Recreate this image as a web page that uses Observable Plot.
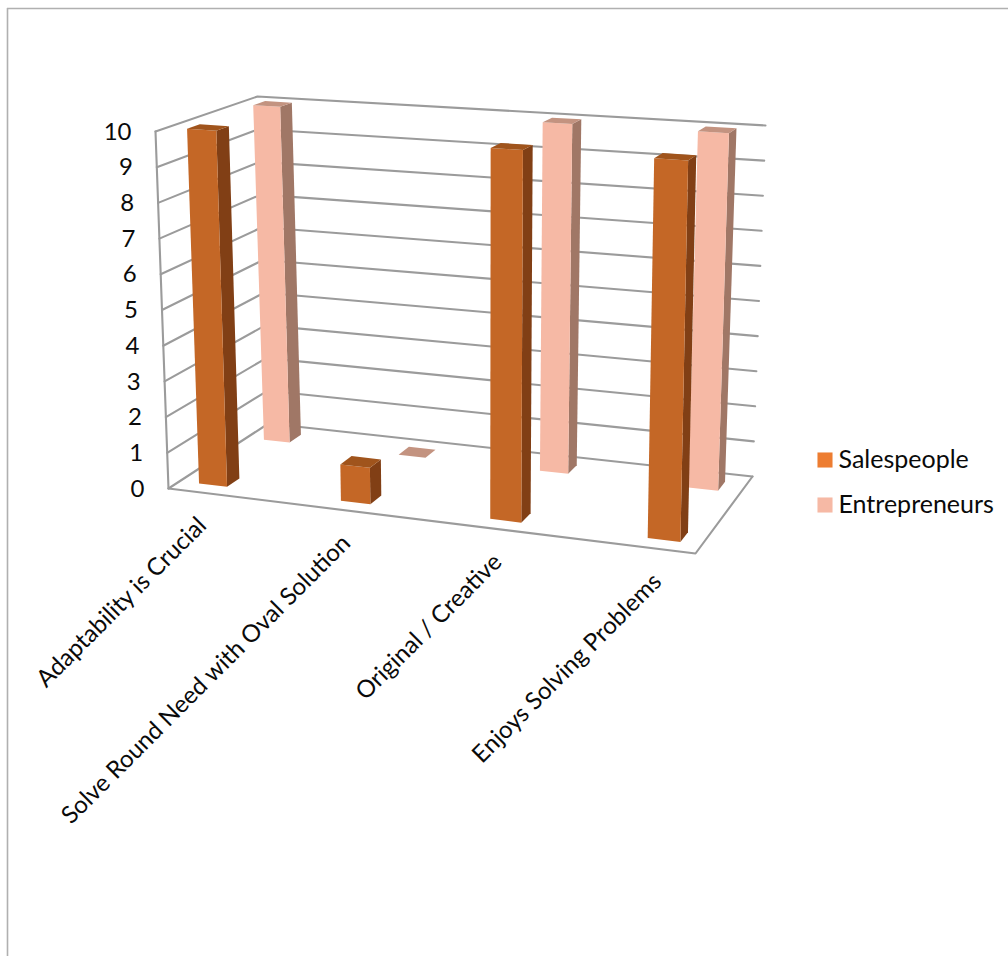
<!DOCTYPE html>
<html>
<head>
<meta charset="utf-8">
<script src="https://cdn.jsdelivr.net/npm/d3@7"></script>
<script src="https://cdn.jsdelivr.net/npm/@observablehq/plot@0.6"></script>
<style>
  html, body { margin: 0; padding: 0; background: #fff; }
  svg { display: block; }
</style>
</head>
<body>
<div id="chart"></div>
<script>
const categories = ["Adaptability is Crucial", "Solve Round Need with Oval Solution", "Original / Creative", "Enjoys Solving Problems"];
const salespeople = [10, 1, 10, 10];
const entrepreneurs = [10, 0, 10, 10];
const valueTicks = [0, 1, 2, 3, 4, 5, 6, 7, 8, 9, 10];
const seriesNames = ["Salespeople", "Entrepreneurs"];

// Unit square -> quadrilateral homography (corners: u0v0, u1v0, u1v1, u0v1).
function quad([p0, p1, p2, p3]) {
  const dx1 = p1[0] - p2[0], dy1 = p1[1] - p2[1];
  const dx2 = p3[0] - p2[0], dy2 = p3[1] - p2[1];
  const sx = p0[0] - p1[0] + p2[0] - p3[0], sy = p0[1] - p1[1] + p2[1] - p3[1];
  const den = dx1 * dy2 - dx2 * dy1;
  const g = (sx * dy2 - dx2 * sy) / den, h = (dx1 * sy - sx * dy1) / den;
  const a = p1[0] - p0[0] + g * p1[0], b = p3[0] - p0[0] + h * p3[0];
  const d = p1[1] - p0[1] + g * p1[1], e = p3[1] - p0[1] + h * p3[1];
  return (u, v) => {
    const w = g * u + h * v + 1;
    return [(a * u + b * v + p0[0]) / w, (d * u + e * v + p0[1]) / w];
  };
}

// Chart box in perspective: the floor plane and the plane at the top of the value axis.
const floor = quad([[168, 488], [695, 553], [752, 476], [268, 423]]);
const ceiling = quad([[155, 131], [703, 166], [765, 125], [257, 96]]);
const valueMax = 10;

function project(u, v, value) {
  const t = value / valueMax, f = floor(u, v), c = ceiling(u, v);
  return {x: f[0] + (c[0] - f[0]) * t, y: f[1] + (c[1] - f[1]) * t};
}

// Bar footprints in floor coordinates; the back row is painted first.
const rows = [
  {values: entrepreneurs, start: 0.038, step: 0.2883, width: 0.056, v0: 0.765, v1: 0.89, front: "#f6b9a5", side: "#a07766", top: "#c39380"},
  {values: salespeople, start: 0.04, step: 0.288, width: 0.058, v0: 0.105, v1: 0.225, front: "#c46726", side: "#813f15", top: "#a0541c"}
];

const faces = [];
for (const row of rows) {
  row.values.forEach((value, i) => {
    const u0 = row.start + row.step * i, u1 = u0 + row.width;
    const {v0, v1} = row;
    faces.push({fill: row.side, points: [project(u1, v0, 0), project(u1, v1, 0), project(u1, v1, value), project(u1, v0, value)]});
    faces.push({fill: row.front, points: [project(u0, v0, 0), project(u1, v0, 0), project(u1, v0, value), project(u0, v0, value)]});
    faces.push({fill: row.top, points: [project(u0, v0, value), project(u1, v0, value), project(u1, v1, value), project(u0, v1, value)]});
  });
}

// Gridlines run along the side wall and then along the back wall.
const gridlines = valueTicks.map(value => [project(0, 0, value), project(0, 1, value), project(1, 1, value)]);
const wallEdge = [project(0, 0, 0), project(0, 0, valueMax)];
const floorEdge = [project(0, 0, 0), project(1, 0, 0), project(1, 1, 0)];

const tickLabels = valueTicks.map(value => ({label: String(value), ...project(0, 0, value)}));
const categoryLabels = categories.map((label, i) => ({label, ...project(rows[1].start + rows[1].step * i + rows[1].width / 2, 0, 0)}));

const legend = [
  {label: seriesNames[0], y: 459.5, fill: "#ed7d31"},
  {label: seriesNames[1], y: 504.5, fill: "#f6b9a5"}
];

const gridColor = "#9b9b9b", frameColor = "#b0b0b0", textColor = "#0a0a0a";

const chart = Plot.plot({
  width: 1008,
  height: 956,
  margin: 0,
  x: {type: "identity", axis: null},
  y: {type: "identity", axis: null},
  style: {fontFamily: "Lato, 'Open Sans', sans-serif", background: "#fff"},
  marks: [
    Plot.ruleY([8], {x1: 7, x2: 1008, stroke: frameColor, strokeWidth: 1.6}),
    Plot.ruleX([7], {y1: 8, y2: 956, stroke: frameColor, strokeWidth: 1.6}),
    ...gridlines.map(line => Plot.line(line, {x: "x", y: "y", stroke: gridColor, strokeWidth: 2.1})),
    Plot.line(wallEdge, {x: "x", y: "y", stroke: gridColor, strokeWidth: 2.1}),
    Plot.line(floorEdge, {x: "x", y: "y", stroke: gridColor, strokeWidth: 2.1}),
    ...faces.map(face => Plot.line(face.points, {x: "x", y: "y", fill: face.fill, stroke: "none"})),
    Plot.text(tickLabels, {x: "x", y: "y", text: "label", dx: -24, dy: 0.5, textAnchor: "end", fontSize: 24, fill: textColor}),
    Plot.text(categoryLabels, {x: "x", y: "y", text: "label", dx: 0.5, dy: 29, rotate: -45, textAnchor: "end", fontSize: 24.1, fill: textColor}),
    Plot.dot(legend, {x: 824.5, y: "y", symbol: "square", r: 8.5, fill: "fill", stroke: "none"}),
    Plot.text(legend, {x: 838, y: "y", text: "label", textAnchor: "start", fontSize: 25, fill: textColor})
  ]
});
document.getElementById("chart").append(chart);
</script>
</body>
</html>
